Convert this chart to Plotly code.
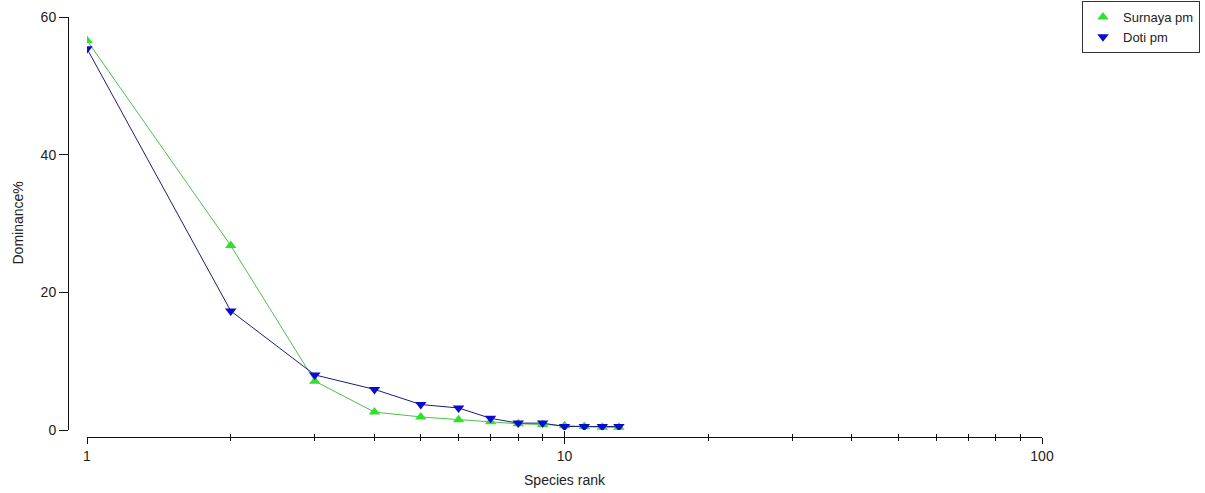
import plotly.graph_objects as go

ranks = list(range(1, 14))
surnaya_pm = [56.6, 26.8, 7.1, 2.6, 1.9, 1.5, 1.2, 0.9, 0.8, 0.6, 0.5, 0.4, 0.4]
doti_pm = [55.4, 17.3, 8.0, 5.9, 3.7, 3.2, 1.7, 1.0, 1.0, 0.5, 0.5, 0.5, 0.5]
series_names = ["Surnaya pm", "Doti pm"]
y_ticks = [0, 20, 40, 60]
x_major = [1, 10, 100]
x_minor = [2, 3, 4, 5, 6, 7, 8, 9, 20, 30, 40, 50, 60, 70, 80, 90]
x_title = "Species rank"
y_title = "Dominance%"

GREEN_M = "#2fe02f"
GREEN_L = "#4cc04c"
BLUE_M = "#0a0ad0"
BLUE_L = "#1c1c7a"
FONT = "Liberation Sans, Arial, sans-serif"

W, H = 1205, 493
x_left, x_right, y_axis_px, y_top, y_bot, x_axis_px = 87, 1042, 68, 17, 430, 437

xdom = [x_left / W, x_right / W]
ydom = [(H - y_bot) / H, (H - y_top) / H]
ypos = y_axis_px / W
xpos = (H - x_axis_px) / H

fig = go.Figure()
fig.add_trace(go.Scatter(
    x=ranks, y=surnaya_pm, mode="lines+markers", name=series_names[0],
    line=dict(color=GREEN_L, width=1),
    marker=dict(symbol="triangle-up", size=10, color=GREEN_M),
    showlegend=False,
))
fig.add_trace(go.Scatter(
    x=ranks, y=doti_pm, mode="lines+markers", name=series_names[1],
    line=dict(color=BLUE_L, width=1),
    marker=dict(symbol="triangle-down", size=10, color=BLUE_M),
    showlegend=False,
))
# legend-only entries (markers only, as in the reference)
fig.add_trace(go.Scatter(x=[None], y=[None], mode="markers", name=series_names[0],
                         marker=dict(symbol="triangle-up", size=10, color=GREEN_M)))
fig.add_trace(go.Scatter(x=[None], y=[None], mode="markers", name=series_names[1],
                         marker=dict(symbol="triangle-down", size=10, color=BLUE_M)))
# companion axis for ticks crossing the x-axis line
fig.add_trace(go.Scatter(x=[None], y=[None], xaxis="x2", yaxis="y",
                         showlegend=False, hoverinfo="skip"))

axis_common = dict(showgrid=False, zeroline=False, linecolor="#111", linewidth=1,
                   tickcolor="#111", tickwidth=1, automargin=False)

fig.update_layout(
    width=W, height=H,
    margin=dict(l=0, r=0, t=0, b=0, autoexpand=False),
    paper_bgcolor="white", plot_bgcolor="white",
    font=dict(family=FONT, size=14, color="#222"),
    xaxis=dict(
        type="log", range=[0, 2], domain=xdom, anchor="free", position=xpos,
        showline=True, tickvals=x_major, ticktext=[str(v) for v in x_major],
        ticks="outside", ticklen=6,
        minor=dict(tickvals=x_minor, ticks="outside", ticklen=3, tickcolor="#111", showgrid=False),
        title=dict(text=x_title, standoff=12, font=dict(size=14)),
        **axis_common,
    ),
    xaxis2=dict(
        type="log", range=[0, 2], domain=xdom, anchor="free", position=xpos,
        overlaying="x", showline=False, tickvals=x_major, showticklabels=False,
        ticks="inside", ticklen=6,
        minor=dict(tickvals=x_minor, ticks="inside", ticklen=3, tickcolor="#111", showgrid=False),
        showgrid=False, zeroline=False, tickcolor="#111", tickwidth=1, automargin=False,
    ),
    yaxis=dict(
        range=[0, 60], domain=ydom, anchor="free", position=ypos,
        showline=True, tickvals=y_ticks, ticks="outside", ticklen=9,
        **axis_common,
    ),
    annotations=[dict(
        text=y_title, xref="paper", yref="paper", x=18 / W, y=(ydom[0] + ydom[1]) / 2,
        xanchor="center", yanchor="middle", textangle=-90, showarrow=False,
        font=dict(size=14, color="#222"),
    )],
    legend=dict(
        x=1200 / W, xanchor="right", y=(H - 1) / H, yanchor="top",
        bgcolor="white", bordercolor="#333", borderwidth=1,
        font=dict(size=13, color="#222"), itemwidth=30, tracegroupgap=0,
    ),
)

fig.write_html("out.html", config={"displayModeBar": False},
               post_script="document.body.style.margin='0';document.body.style.overflow='hidden';")
